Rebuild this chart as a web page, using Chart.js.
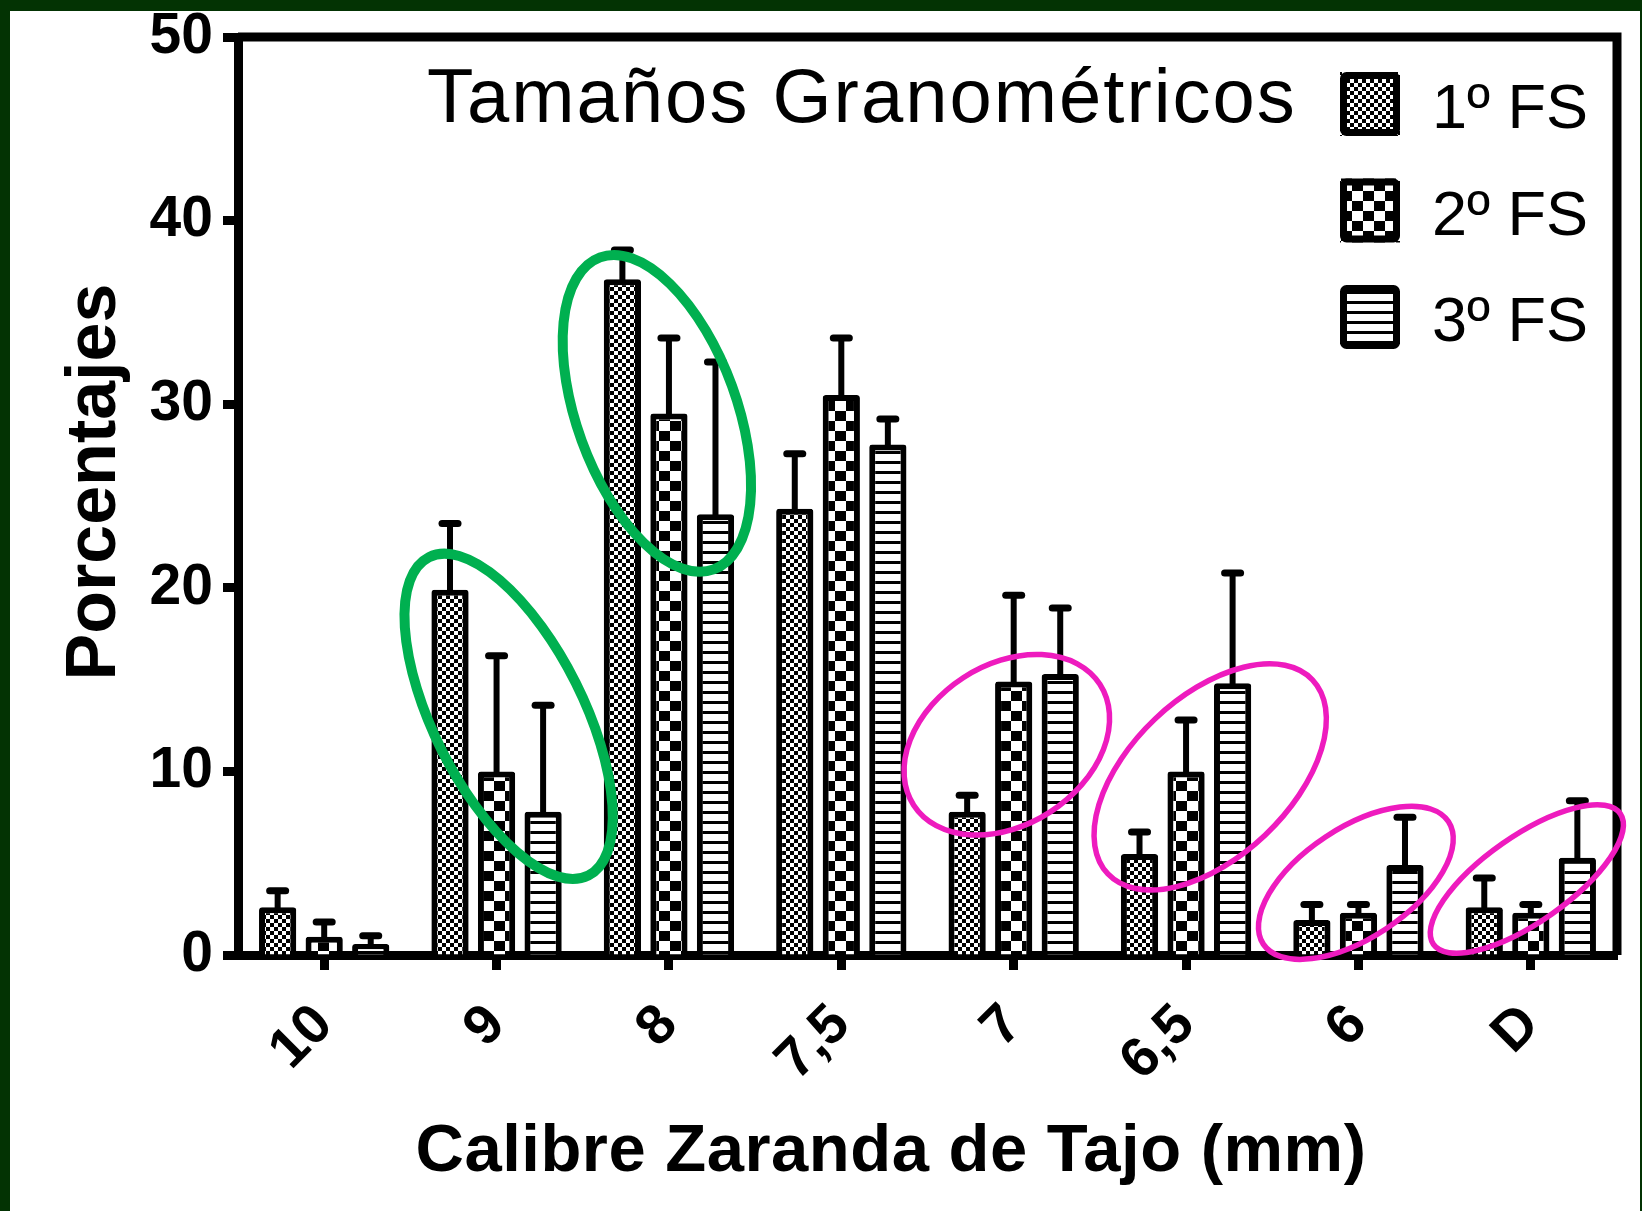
<!DOCTYPE html>
<html><head><meta charset="utf-8">
<script src="https://cdn.jsdelivr.net/npm/chart.js@4.4.0/dist/chart.umd.min.js"></script>
<style>
html,body{margin:0;padding:0;background:#033303;width:1642px;height:1211px;overflow:hidden;}
#wrap{position:absolute;left:10px;top:11px;width:1630px;height:1200px;background:#fff;}
canvas{display:block;}
</style></head><body>
<div id="wrap"><canvas id="c" width="1630" height="1200"></canvas></div>
<script>
// ---- data ----
const categories = ['10', '9', '8', '7,5', '7', '6,5', '6', 'D'];
const seriesNames = ['1º FS', '2º FS', '3º FS'];
const fs1 = [2.6, 19.9, 36.8, 24.3, 7.8, 5.5, 1.9, 2.6];
const fs2 = [1.0, 10.0, 29.5, 30.5, 14.9, 10.0, 2.3, 2.3];
const fs3 = [0.6, 7.8, 24.0, 27.8, 15.3, 14.8, 4.9, 5.3];
const err1 = [0.9, 3.6, 1.6, 3.0, 0.9, 1.2, 0.85, 1.6];
const err2 = [0.8, 6.3, 4.1, 3.1, 4.7, 2.8, 0.45, 0.45];
const err3 = [0.45, 5.8, 8.3, 1.4, 3.6, 6.0, 2.6, 3.1];
const yTickValues = [0, 10, 20, 30, 40, 50];
const chartTitle = 'Tamaños Granométricos';
const xTitle = 'Calibre Zaranda de Tajo (mm)';
const yTitle = 'Porcentajes';

// highlight ellipses: centre in (category index, value)
const highlightCx = [1.07, 1.93, 3.96, 5.14, 5.985, 6.977];
const highlightCy = [13.0, 29.5, 11.45, 9.7, 3.93, 4.14];

// ---- styles ----
const FONT = '"Liberation Sans", Arial, sans-serif';
const highlightStyle = [
  {a:178, b:75, rot:63.4, color:'#00B050', w:10},
  {a:166, b:80, rot:70, color:'#00B050', w:10},
  {a:111, b:80, rot:-33, color:'#EE1BBE', w:5.5},
  {a:141, b:80, rot:-43.5, color:'#EE1BBE', w:5.5},
  {a:111, b:55, rot:-33.5, color:'#EE1BBE', w:5.5},
  {a:114, b:43, rot:-35, color:'#EE1BBE', w:5.5}
];

function makePattern(type) {
  const c = document.createElement('canvas');
  const g = c.getContext('2d');
  if (type === 1) {
    c.width = 8; c.height = 8;
    g.fillStyle = '#fff'; g.fillRect(0, 0, 8, 8);
    g.fillStyle = '#000'; g.fillRect(4, 0, 4, 4); g.fillRect(0, 4, 4, 4);
  } else if (type === 2) {
    c.width = 22; c.height = 20;
    g.fillStyle = '#fff'; g.fillRect(0, 0, 22, 20);
    g.fillStyle = '#000'; g.fillRect(11, 0, 11, 10); g.fillRect(0, 10, 11, 10);
  } else {
    c.width = 10; c.height = 10;
    g.fillStyle = '#fff'; g.fillRect(0, 0, 10, 10);
    g.fillStyle = '#000'; g.fillRect(0, 0, 10, 3);
  }
  return g.createPattern(c, 'repeat');
}
const patterns = [makePattern(1), makePattern(2), makePattern(3)];
const seriesValues = [fs1, fs2, fs3];
const seriesErrors = [err1, err2, err3];

const decorPlugin = {
  id: 'decor',
  afterDatasetsDraw(chart) {
    const ctx = chart.ctx;
    const xs = chart.scales.x, ys = chart.scales.y;
    const ca = chart.chartArea;
    ctx.save();
    // error bars
    ctx.strokeStyle = '#000';
    seriesValues.forEach((vals, di) => {
      const meta = chart.getDatasetMeta(di);
      meta.data.forEach((bar, j) => {
        const yEnd = ys.getPixelForValue(vals[j] + seriesErrors[di][j]);
        ctx.lineWidth = 6; ctx.lineCap = 'butt';
        ctx.beginPath(); ctx.moveTo(bar.x, bar.y + 2); ctx.lineTo(bar.x, yEnd); ctx.stroke();
        ctx.lineWidth = 7; ctx.lineCap = 'round';
        ctx.beginPath(); ctx.moveTo(bar.x - 8, yEnd); ctx.lineTo(bar.x + 8, yEnd); ctx.stroke();
      });
    });
    // frame top & right
    ctx.lineWidth = 9; ctx.lineCap = 'butt';
    ctx.beginPath();
    ctx.moveTo(ca.left, ca.top); ctx.lineTo(ca.right + 4.5, ca.top);
    ctx.moveTo(ca.right, ca.top); ctx.lineTo(ca.right, ca.bottom);
    ctx.stroke();
    // title
    ctx.fillStyle = '#000';
    ctx.textBaseline = 'alphabetic';
    ctx.textAlign = 'left';
    ctx.font = '76px ' + FONT;
    ctx.letterSpacing = '2px';
    ctx.fillText(chartTitle, 417, 111);
    ctx.letterSpacing = '0px';
    // legend
    const rowsY = [93, 199.5, 306];
    seriesNames.forEach((name, i) => {
      const bx = 1330, bw = 60, bh = 64, by = rowsY[i] - bh / 2;
      ctx.fillStyle = patterns[i];
      ctx.fillRect(bx, by, bw, bh);
      ctx.lineWidth = 7; ctx.strokeStyle = '#000';
      ctx.beginPath();
      ctx.roundRect(bx + 3.5, by + 3.5, bw - 7, bh - 7, 3);
      ctx.stroke();
      ctx.fillStyle = '#000';
      ctx.font = '63px ' + FONT;
      ctx.fillText(name, 1422, rowsY[i] + 24);
    });
    // axis titles
    ctx.font = 'bold 67px ' + FONT;
    ctx.textAlign = 'center';
    ctx.letterSpacing = '0.5px';
    ctx.fillText(xTitle, 881, 1160);
    ctx.letterSpacing = '0px';
    ctx.save();
    ctx.translate(105, 471);
    ctx.rotate(-Math.PI / 2);
    ctx.font = 'bold 70px ' + FONT;
    ctx.fillText(yTitle, 0, 0);
    ctx.restore();
    // highlight ellipses
    const p0 = xs.getPixelForValue(0), p1 = xs.getPixelForValue(1);
    highlightCx.forEach((cx, i) => {
      const s = highlightStyle[i];
      const px = p0 + cx * (p1 - p0);
      const py = ys.getPixelForValue(highlightCy[i]);
      ctx.strokeStyle = s.color; ctx.lineWidth = s.w;
      ctx.beginPath();
      ctx.ellipse(px, py, s.a, s.b, s.rot * Math.PI / 180, 0, Math.PI * 2);
      ctx.stroke();
    });
    ctx.restore();
  }
};

new Chart(document.getElementById('c'), {
  type: 'bar',
  data: {
    labels: categories,
    datasets: seriesValues.map((vals, i) => ({
      label: seriesNames[i],
      data: vals,
      backgroundColor: patterns[i],
      borderColor: '#000',
      borderWidth: 6,
      borderRadius: 3,
      borderSkipped: 'start',
      categoryPercentage: 0.81,
      barPercentage: 0.8
    }))
  },
  options: {
    responsive: false,
    animation: false,
    devicePixelRatio: 1,
    layout: { padding: { top: 26, right: 23, left: 0, bottom: 0 } },
    plugins: { legend: { display: false }, tooltip: { enabled: false }, title: { display: false } },
    scales: {
      x: {
        afterFit: s => { s.height = 256; },
        grid: { display: true, drawOnChartArea: false, drawTicks: true, offset: false, tickLength: 15, tickWidth: 9, tickColor: '#000' },
        border: { display: true, width: 9, color: '#000' },
        ticks: { color: '#000', font: { family: FONT, size: 56, weight: 'bold' }, minRotation: 45, maxRotation: 45, padding: 22 }
      },
      y: {
        min: 0, max: 50,
        afterFit: s => { s.width = 228; },
        afterBuildTicks: s => { s.ticks = yTickValues.map(v => ({ value: v })); },
        grid: { display: true, drawOnChartArea: false, drawTicks: true, tickLength: 15, tickWidth: 9, tickColor: '#000' },
        border: { display: true, width: 9, color: '#000' },
        ticks: { color: '#000', font: { family: FONT, size: 57, weight: 'bold', lineHeight: 0.5 }, padding: 10 }
      }
    }
  },
  plugins: [decorPlugin]
});
</script>
</body></html>
